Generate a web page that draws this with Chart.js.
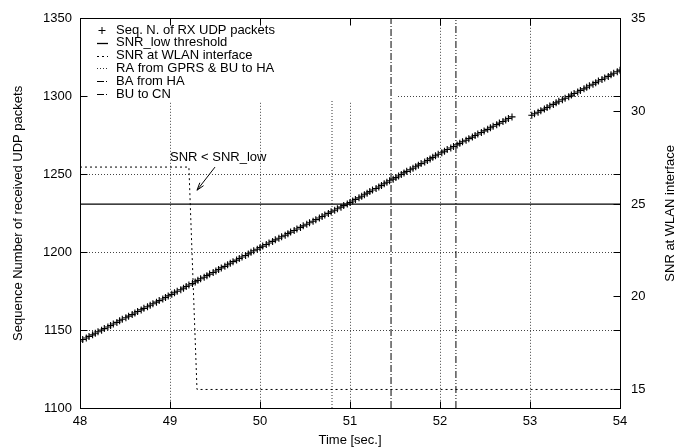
<!DOCTYPE html>
<html><head><meta charset="utf-8">
<script src="https://cdn.jsdelivr.net/npm/chart.js@4.4.0/dist/chart.umd.min.js"></script>
<style>html,body{margin:0;padding:0;background:#fff}canvas{display:block}</style>
</head><body>
<canvas id="c" width="684" height="448"></canvas>
<script>
// ---- data ----
const seqTimes = [
48.00,48.03,48.07,48.10,48.14,48.17,48.20,48.24,48.27,48.31,
48.34,48.37,48.41,48.44,48.47,48.51,48.54,48.58,48.61,48.64,
48.68,48.71,48.75,48.78,48.81,48.85,48.88,48.92,48.95,48.98,
49.02,49.05,49.08,49.12,49.15,49.18,49.21,49.25,49.28,49.31,
49.34,49.38,49.41,49.44,49.48,49.51,49.54,49.57,49.61,49.64,
49.67,49.70,49.74,49.77,49.80,49.84,49.87,49.90,49.93,49.97,
50.00,50.03,50.07,50.10,50.14,50.17,50.21,50.24,50.28,50.31,
50.34,50.38,50.41,50.45,50.48,50.52,50.55,50.59,50.62,50.66,
50.69,50.72,50.76,50.79,50.83,50.86,50.90,50.93,50.97,51.00,
51.03,51.06,51.10,51.13,51.16,51.19,51.22,51.25,51.29,51.32,
51.35,51.38,51.41,51.44,51.48,51.51,51.54,51.57,51.60,51.63,
51.67,51.70,51.73,51.76,51.79,51.83,51.86,51.89,51.92,51.95,
51.98,52.02,52.05,52.08,52.12,52.15,52.19,52.22,52.25,52.29,
52.32,52.36,52.39,52.42,52.46,52.49,52.53,52.56,52.59,52.63,
52.66,52.70,52.73,52.76,52.80,53.02,53.05,53.09,53.12,53.16,
53.19,53.22,53.26,53.29,53.32,53.36,53.39,53.43,53.46,53.49,
53.53,53.56,53.60,53.63,53.66,53.70,53.73,53.76,53.80,53.83,
53.87,53.90,53.93,53.97,54.00];
const seqNumbers = [
1143,1144,1145,1146,1147,1148,1149,1150,1151,1152,
1153,1154,1155,1156,1157,1158,1159,1160,1161,1162,
1163,1164,1165,1166,1167,1168,1169,1170,1171,1172,
1173,1174,1175,1176,1177,1178,1179,1180,1181,1182,
1183,1184,1185,1186,1187,1188,1189,1190,1191,1192,
1193,1194,1195,1196,1197,1198,1199,1200,1201,1202,
1203,1204,1205,1206,1207,1208,1209,1210,1211,1212,
1213,1214,1215,1216,1217,1218,1219,1220,1221,1222,
1223,1224,1225,1226,1227,1228,1229,1230,1231,1232,
1233,1234,1235,1236,1237,1238,1239,1240,1241,1242,
1243,1244,1245,1246,1247,1248,1249,1250,1251,1252,
1253,1254,1255,1256,1257,1258,1259,1260,1261,1262,
1263,1264,1265,1266,1267,1268,1269,1270,1271,1272,
1273,1274,1275,1276,1277,1278,1279,1280,1281,1282,
1283,1284,1285,1286,1287,1288,1289,1290,1291,1292,
1293,1294,1295,1296,1297,1298,1299,1300,1301,1302,
1303,1304,1305,1306,1307,1308,1309,1310,1311,1312,
1313,1314,1315,1316,1317];
const snrTimes = [48.00, 49.21, 49.30, 54.00];
const snrValues = [27, 27, 15, 15];
const snrLowThreshold = 25;
const raTimes = [50.8];
const baTimes = [51.456];
const buTimes = [52.177];
const xTicks = [48, 49, 50, 51, 52, 53, 54];
const yTicks = [1100, 1150, 1200, 1250, 1300, 1350];
const y2Ticks = [15, 20, 25, 30, 35];
const y2Range = [14, 35];
const seriesLabels = ['Seq. N. of RX UDP packets', 'SNR_low threshold', 'SNR at WLAN interface',
                      'RA from GPRS & BU to HA', 'BA from HA', 'BU to CN'];
const xTitle = 'Time [sec.]';
const yTitle = 'Sequence Number of received UDP packets';
const y2Title = 'SNR at WLAN interface';
const annotationText = 'SNR < SNR_low';
const annotationAt = [49.0, 27.5];
const arrowFrom = [49.5, 27.0];
const arrowTo = [49.3, 25.75];

// ---- styling ----
const FONT = "'Liberation Sans', Arial, Helvetica, sans-serif";
const FS = 13;
const GRID = '#444';
const vline = (times) => times.flatMap(t => [{x: t, y: yTicks[0]}, {x: t, y: yTicks[yTicks.length - 1]}, {x: t, y: null}]);

const datasets = [
  {label: seriesLabels[0], data: seqTimes.map((t, i) => ({x: t, y: seqNumbers[i]})), yAxisID: 'y',
   showLine: false, pointStyle: 'cross', pointRadius: 3.5, pointBorderWidth: 1.1, borderColor: '#000', order: 1},
  {label: seriesLabels[1], data: [{x: xTicks[0], y: snrLowThreshold}, {x: xTicks[xTicks.length - 1], y: snrLowThreshold}],
   yAxisID: 'y2', borderColor: '#000', borderWidth: 1.3, pointRadius: 0, order: 0},
  {label: seriesLabels[2], data: snrTimes.map((t, i) => ({x: t, y: snrValues[i]})), yAxisID: 'y2',
   borderColor: '#000', borderWidth: 1, borderDash: [2, 3], pointRadius: 0, order: 0},
  {label: seriesLabels[3], data: vline(raTimes), yAxisID: 'y', borderColor: '#333', borderWidth: 1,
   borderDash: [1, 2], pointRadius: 0, spanGaps: false, order: 10},
  {label: seriesLabels[4], data: vline(baTimes), yAxisID: 'y', borderColor: '#000', borderWidth: 1,
   borderDash: [7, 2, 1, 2], pointRadius: 0, spanGaps: false, order: 0},
  {label: seriesLabels[5], data: vline(buTimes), yAxisID: 'y', borderColor: '#000', borderWidth: 1,
   borderDash: [7, 2, 1, 2, 1, 2], pointRadius: 0, spanGaps: false, order: 0}
];

const KEY_RIGHT = 397, KEY_BOTTOM = 101;
const px = v => Math.floor(v) + 0.5;

const keyBoxPlugin = {
  id: 'keyBox',
  afterDatasetDraw(chart, args) {
    if (args.index !== 3) return;
    const {ctx, chartArea: a} = chart;
    ctx.save();
    ctx.fillStyle = '#fff';
    ctx.fillRect(a.left + 1, a.top + 1, KEY_RIGHT - a.left - 1, KEY_BOTTOM - a.top - 1);
    ctx.restore();
  }
};

const decorPlugin = {
  id: 'decor',
  afterDatasetsDraw(chart) {
    const {ctx, scales} = chart;
    const xs = scales.x, y2 = scales.y2;
    ctx.save();
    // key
    ctx.font = FS + 'px ' + FONT;
    ctx.fillStyle = '#000';
    ctx.textBaseline = 'middle';
    ctx.textAlign = 'left';
    chart.data.datasets.forEach((ds, i) => {
      const yy = 30 + i * 12.8;
      ctx.strokeStyle = ds.borderColor;
      ctx.lineWidth = ds.borderWidth || 1;
      if (ds.showLine === false) {
        ctx.setLineDash([]);
        ctx.lineWidth = 1;
        ctx.beginPath();
        ctx.moveTo(98.5, Math.round(yy) + 0.5); ctx.lineTo(105.5, Math.round(yy) + 0.5);
        ctx.moveTo(102, Math.round(yy) - 3); ctx.lineTo(102, Math.round(yy) + 4);
        ctx.stroke();
      } else {
        ctx.setLineDash(ds.borderDash || []);
        ctx.beginPath();
        ctx.moveTo(97, Math.round(yy) + 0.5); ctx.lineTo(108, Math.round(yy) + 0.5);
        ctx.stroke();
      }
      ctx.fillText(ds.label, 116, yy);
    });
    ctx.setLineDash([]);
    // annotation
    const tx = xs.getPixelForValue(annotationAt[0]), ty = y2.getPixelForValue(annotationAt[1]);
    ctx.fillText(annotationText, tx, ty);
    const ax0 = xs.getPixelForValue(arrowFrom[0]), ay0 = y2.getPixelForValue(arrowFrom[1]);
    const ax1 = xs.getPixelForValue(arrowTo[0]), ay1 = y2.getPixelForValue(arrowTo[1]);
    ctx.strokeStyle = '#000'; ctx.lineWidth = 1;
    ctx.beginPath(); ctx.moveTo(ax0, ay0); ctx.lineTo(ax1, ay1); ctx.stroke();
    const ang = Math.atan2(ay1 - ay0, ax1 - ax0), L = 8, sp = 0.3;
    ctx.beginPath();
    ctx.moveTo(ax1 - L * Math.cos(ang - sp), ay1 - L * Math.sin(ang - sp));
    ctx.lineTo(ax1, ay1);
    ctx.lineTo(ax1 - L * Math.cos(ang + sp), ay1 - L * Math.sin(ang + sp));
    ctx.stroke();
    ctx.restore();
  },
  afterDraw(chart) {
    const {ctx, chartArea: a, scales} = chart;
    ctx.save();
    ctx.strokeStyle = '#000';
    ctx.lineWidth = 1;
    ctx.setLineDash([]);
    const T = 7;
    const L = px(a.left), R = px(a.right), Tp = px(a.top), B = px(a.bottom);
    ctx.beginPath();
    xTicks.forEach(v => {
      const p = px(scales.x.getPixelForValue(v));
      ctx.moveTo(p, B); ctx.lineTo(p, B - T);
      ctx.moveTo(p, Tp); ctx.lineTo(p, Tp + T);
    });
    yTicks.forEach(v => {
      const p = px(scales.y.getPixelForValue(v));
      ctx.moveTo(L, p); ctx.lineTo(L + T, p);
      ctx.moveTo(R, p); ctx.lineTo(R - T, p);
    });
    y2Ticks.forEach(v => {
      const p = px(scales.y2.getPixelForValue(v));
      ctx.moveTo(R, p); ctx.lineTo(R - T, p);
    });
    ctx.stroke();
    ctx.strokeRect(L, Tp, R - L, B - Tp);
    // right axis title, reading bottom to top
    ctx.font = FS + 'px ' + FONT;
    ctx.fillStyle = '#000';
    ctx.textAlign = 'center';
    ctx.textBaseline = 'middle';
    ctx.translate(670, (a.top + a.bottom) / 2);
    ctx.rotate(-Math.PI / 2);
    ctx.fillText(y2Title, 0, 0);
    ctx.restore();
  }
};

const fixTicks = (list) => (scale) => { scale.ticks = list.map(v => ({value: v})); };
const tickFont = {family: FONT, size: FS};
const plain = v => String(v);

new Chart(document.getElementById('c'), {
  type: 'line',
  data: {datasets},
  options: {
    responsive: false,
    devicePixelRatio: 1,
    animation: false,
    events: [],
    layout: {padding: {top: 18, left: 0, right: 0, bottom: 0}},
    plugins: {legend: {display: false}, tooltip: {enabled: false}},
    scales: {
      x: {
        type: 'linear', position: 'bottom', min: xTicks[0], max: xTicks[xTicks.length - 1],
        afterBuildTicks: fixTicks(xTicks),
        afterFit: s => { s.height = 40; },
        ticks: {font: tickFont, color: '#000', padding: 6, maxRotation: 0, autoSkip: false, callback: plain},
        grid: {color: GRID, lineWidth: 1, drawTicks: false},
        border: {display: false, dash: [1, 2]},
        title: {display: true, text: xTitle, font: tickFont, color: '#000', padding: {top: 0, bottom: 0}}
      },
      y: {
        type: 'linear', position: 'left', min: yTicks[0], max: yTicks[yTicks.length - 1],
        afterBuildTicks: fixTicks(yTicks),
        afterFit: s => { s.width = 80; },
        ticks: {font: tickFont, color: '#000', padding: 8, callback: plain},
        grid: {color: GRID, lineWidth: 1, drawTicks: false},
        border: {display: false, dash: [1, 2]},
        title: {display: true, text: yTitle, font: tickFont, color: '#000', padding: {top: 11, bottom: 0}}
      },
      y2: {
        type: 'linear', position: 'right', min: y2Range[0], max: y2Range[1],
        afterBuildTicks: fixTicks(y2Ticks),
        afterFit: s => { s.width = 64; },
        ticks: {font: tickFont, color: '#000', padding: 11, callback: plain},
        grid: {display: false, drawTicks: false},
        border: {display: false}
      }
    }
  },
  plugins: [keyBoxPlugin, decorPlugin]
});
</script>
</body></html>
